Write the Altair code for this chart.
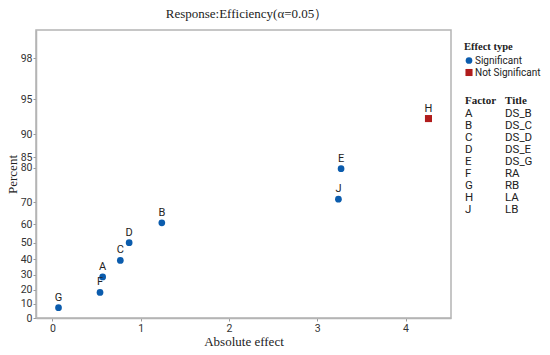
import altair as alt
import pandas as pd
from statistics import NormalDist

# Effects (half-normal plot)
factors = ["G", "F", "A", "C", "D", "B", "J", "E", "H"]
effects = [0.07, 0.54, 0.57, 0.77, 0.87, 1.24, 3.24, 3.27, 4.26]
percents = [7.4, 18.1, 28.7, 39.4, 50.0, 60.6, 71.3, 81.9, 92.6]
types = ["Significant"] * 8 + ["Not Significant"]

# y tick labels and the percent level at which each is drawn in the picture
y_tick_labels = ["0", "10", "20", "30", "40", "50", "60", "70", "80", "85", "90", "95", "98"]
y_tick_levels = [0, 10, 20, 30, 40, 50, 60, 70, 82.2, 85, 90, 95, 98]
x_ticks = [0, 1, 2, 3, 4]

table_factors = ["A", "B", "C", "D", "E", "F", "G", "H", "J"]
table_titles = ["DS_B", "DS_C", "DS_D", "DS_E", "DS_G", "RA", "RB", "LA", "LB"]

nd = NormalDist()
tick_z = [round(nd.inv_cdf(0.5 + p / 200.0), 4) for p in y_tick_levels]
z_keys = "[" + ",".join("'%.4f'" % z for z in tick_z) + "]"
lab_arr = "[" + ",".join("'%s'" % s for s in y_tick_labels) + "]"
y_label_expr = "%s[indexof(%s, format(datum.value, '.4f'))]" % (lab_arr, z_keys)

df = pd.DataFrame({"factor": factors, "effect": effects, "percent": percents, "type": types})
tdf = pd.DataFrame({"factor": table_factors, "title": table_titles,
                    "row": list(range(1, len(table_factors) + 1))})

SANS = "Roboto"
SERIF = "Liberation Serif"
BLUE = "#0b5cad"
RED = "#b01c1c"

xscale = alt.Scale(domain=[-0.185, 4.515], nice=False, zero=False)
yscale = alt.Scale(domain=[0, 2.58], nice=False, zero=False)
tdom = ["Significant", "Not Significant"]

x_axis = alt.Axis(values=x_ticks, format="d", title="Absolute effect", grid=False,
                  tickSize=3, labelPadding=2, titlePadding=2)
y_axis = alt.Axis(values=tick_z, title="Percent", grid=False, labelOverlap=False,
                  labelExpr=y_label_expr, tickSize=3, labelPadding=1, titlePadding=1)

base = alt.Chart(df).transform_calculate(
    z="quantileNormal(0.5 + datum.percent / 200)"
)

legend = alt.Legend(orient="none", legendX=428, legendY=12, title="Effect type")

points = base.mark_point(filled=True, opacity=1).encode(
    x=alt.X("effect:Q", scale=xscale, axis=x_axis),
    y=alt.Y("z:Q", scale=yscale, axis=y_axis),
    color=alt.Color("type:N", legend=legend,
                    scale=alt.Scale(domain=tdom, range=[BLUE, RED])),
    shape=alt.Shape("type:N", legend=legend,
                    scale=alt.Scale(domain=tdom, range=["circle", "square"])),
    size=alt.Size("type:N", legend=None,
                  scale=alt.Scale(domain=tdom, range=[45, 50])),
)

labels = base.mark_text(font=SANS, fontSize=11, color="#222", dy=-10).encode(
    x=alt.X("effect:Q", scale=xscale, axis=x_axis),
    y=alt.Y("z:Q", scale=yscale, axis=y_axis),
    text="factor:N",
)

main = alt.layer(points, labels)

rscale = alt.Scale(domain=[1, 9], range=[84, 180])
col1 = alt.Chart(tdf).mark_text(font=SANS, fontSize=11.5, color="#222", align="left", baseline="middle").encode(
    x=alt.value(429), y=alt.Y("row:Q", scale=rscale, axis=None), text="factor:N")
col2 = alt.Chart(tdf).mark_text(font=SANS, fontSize=11.5, color="#222", align="left", baseline="middle").encode(
    x=alt.value(469), y=alt.Y("row:Q", scale=rscale, axis=None), text="title:N")
hdr1 = alt.Chart(pd.DataFrame({"t": ["Factor"]})).mark_text(
    font=SERIF, fontSize=11, fontWeight="bold", color="#222", align="left", baseline="middle").encode(
    x=alt.value(429), y=alt.value(71), text="t:N")
hdr2 = alt.Chart(pd.DataFrame({"t": ["Title"]})).mark_text(
    font=SERIF, fontSize=11, fontWeight="bold", color="#222", align="left", baseline="middle").encode(
    x=alt.value(469), y=alt.value(71), text="t:N")

table = alt.layer(col1, col2, hdr1, hdr2)

chart = alt.layer(main, table).resolve_scale(y="independent").properties(
    width=415, height=288,
    autosize=alt.AutoSizeParams(type="none"),
    padding={"left": 28, "top": 22, "right": 91, "bottom": 29},
    title=alt.TitleParams("Response:Efficiency(α=0.05）", font=SERIF, fontSize=13,
                          fontWeight="normal", color="#222", anchor="middle",
                          frame="group", offset=9, dx=3),
).configure_view(
    stroke="#b4b4b4", strokeWidth=1.5
).configure_axis(
    labelFont=SANS, labelFontSize=10.5, labelColor="#333", labelOverlap=False,
    titleFont=SERIF, titleFontSize=13, titleFontWeight="normal", titleColor="#222",
    domainColor="#b4b4b4", domainWidth=1.5, tickColor="#999",
).configure_legend(
    titleFont=SERIF, titleFontSize=10.5, titleFontWeight="bold", titleColor="#222",
    titlePadding=3, labelFont=SANS, labelFontSize=10, labelColor="#222",
    symbolSize=36, rowPadding=2, labelOffset=1, padding=0,
)

chart.save("out.html", embed_options={"renderer": "svg", "actions": False})
